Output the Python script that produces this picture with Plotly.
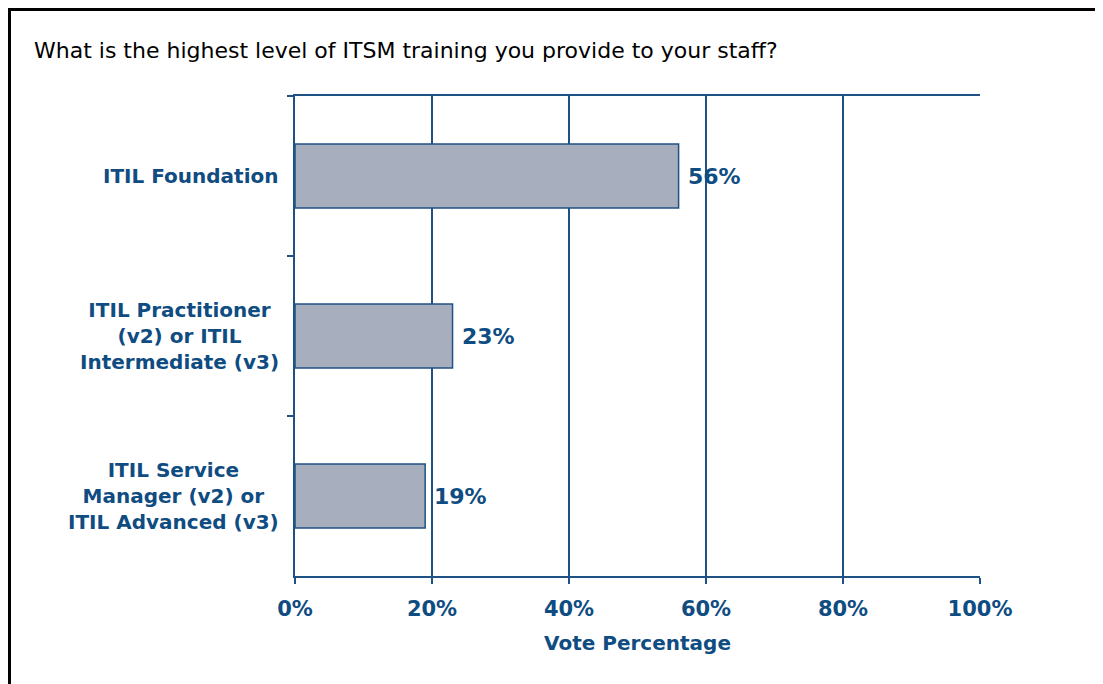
import plotly.graph_objects as go

title_text = "What is the highest level of ITSM training you provide to your staff?"
categories = [
    "ITIL Foundation",
    "ITIL Practitioner<br>(v2) or ITIL<br>Intermediate (v3)",
    "ITIL Service<br>Manager (v2) or<br>ITIL Advanced (v3)",
]
values = [0.56, 0.23, 0.19]
value_labels = ["56%", "23%", "19%"]
x_ticks = [0, 0.2, 0.4, 0.6, 0.8, 1.0]
x_tick_labels = ["0%", "20%", "40%", "60%", "80%", "100%"]
x_title = "Vote Percentage"

BLUE = "#0F4C81"
LINE = "#1F5284"
FONT_B = "DejaVu Sans"

fig = go.Figure()
fig.add_trace(go.Bar(
    y=categories,
    x=values,
    orientation="h",
    width=0.4,
    marker=dict(color="#A7AFBE", line=dict(color=LINE, width=1.5)),
    hoverinfo="skip",
))

annotations = []
for c, v, t in zip(categories, values, value_labels):
    annotations.append(dict(
        x=v, y=c, xref="x", yref="y", text="<b>%s</b>" % t, showarrow=False,
        xanchor="left", xshift=7, font=dict(family=FONT_B, size=22, color=BLUE),
    ))
    annotations.append(dict(
        x=0, y=c, xref="paper", yref="y", text="<b>%s</b>" % c, showarrow=False,
        xanchor="right", xshift=-14, align="center",
        font=dict(family=FONT_B, size=20, color=BLUE),
    ))
annotations.append(dict(
    x=-0.384, y=1.0958, xref="paper", yref="paper", text=title_text, showarrow=False,
    xanchor="left", yanchor="middle", font=dict(family="DejaVu Sans", size=22, color="#000000"),
))

fig.update_layout(
    width=1103, height=684,
    margin=dict(l=287, r=131, t=88, b=116),
    paper_bgcolor="white", plot_bgcolor="white",
    showlegend=False,
    bargap=0.6,
    annotations=annotations,
    shapes=[dict(
        type="rect", xref="paper", yref="paper",
        x0=-0.4168, x1=1.3, y0=-0.4, y1=1.1802,
        line=dict(color="black", width=3), fillcolor="rgba(0,0,0,0)", layer="above",
    )],
    xaxis=dict(
        range=[0, 1], tickvals=x_ticks, ticktext=["<b>%s</b>" % s for s in x_tick_labels],
        showgrid=True, gridcolor=LINE, gridwidth=1.5,
        showline=True, linecolor=LINE, linewidth=2, mirror=True,
        ticks="outside", ticklen=6, tickcolor=LINE, tickwidth=1.5,
        ticklabelstandoff=7,
        tickfont=dict(family=FONT_B, size=21, color=BLUE),
        title=dict(text="<b>%s</b>" % x_title, standoff=16,
                   font=dict(family=FONT_B, size=20, color=BLUE)),
        zeroline=False,
    ),
    yaxis=dict(
        categoryorder="array", categoryarray=categories, autorange="reversed",
        showticklabels=False, tickson="boundaries",
        ticks="outside", ticklen=6, tickcolor=LINE, tickwidth=1.5,
        showline=True, linecolor=LINE, linewidth=2,
        showgrid=False,
    ),
)

fig.write_html("out.html")
